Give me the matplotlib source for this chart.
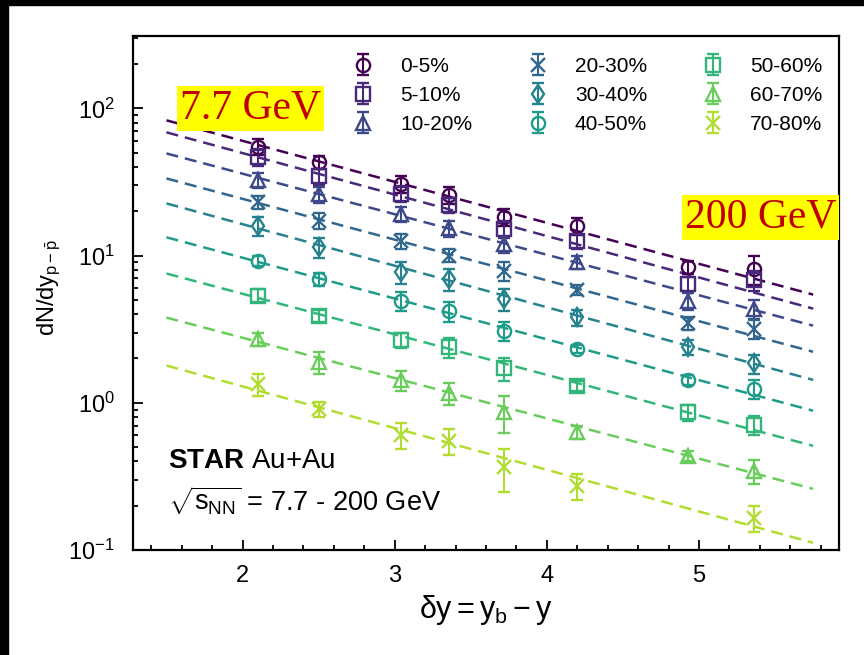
import numpy as np
import matplotlib
matplotlib.use('Agg')
import matplotlib.pyplot as plt
from matplotlib.patches import Rectangle
from matplotlib.ticker import MultipleLocator, LogLocator, NullFormatter

plt.rcParams['font.family'] = ['Liberation Sans', 'DejaVu Sans']
plt.rcParams['mathtext.fontset'] = 'custom'
plt.rcParams['mathtext.rm'] = 'Liberation Sans'
plt.rcParams['mathtext.it'] = 'Liberation Sans'
plt.rcParams['mathtext.bf'] = 'Liberation Sans:bold'

# beam rapidity for 7.7 ... 200 GeV
dy = [2.10, 2.50, 3.04, 3.36, 3.72, 4.20, 4.93, 5.36]

labels = ['0-5%', '5-10%', '10-20%', '20-30%', '30-40%',
          '40-50%', '50-60%', '60-70%', '70-80%']
markers = ['o', 's', '^', 'x', 'd', 'o', 's', '^', 'x']

y_0_5 = [55, 43, 30.5, 25.8, 18.3, 15.8, 8.3, 8.1]
y_5_10 = [47, 34.5, 26.3, 22.0, 15.1, 12.6, 6.4, 6.8]
y_10_20 = [32.5, 26.0, 19.2, 15.3, 11.9, 9.0, 4.9, 4.35]
y_20_30 = [23.0, 17.3, 12.6, 10.0, 7.9, 5.85, 3.47, 3.17]
y_30_40 = [16.0, 11.4, 7.7, 6.9, 5.07, 3.8, 2.4, 1.85]
y_40_50 = [9.25, 6.94, 4.94, 4.18, 3.09, 2.32, 1.43, 1.24]
y_50_60 = [5.35, 3.9, 2.68, 2.38, 1.72, 1.31, 0.86, 0.71]
y_60_70 = [2.71, 1.9, 1.42, 1.17, 0.87, 0.63, 0.437, 0.344]
y_70_80 = [1.34, 0.905, 0.605, 0.55, 0.367, 0.272, np.nan, 0.165]

# relative errors
e_0_5 = [0.12, 0.10, 0.13, 0.13, 0.13, 0.13, 0.10, 0.22]
e_5_10 = [0.13, 0.12, 0.12, 0.12, 0.13, 0.12, 0.12, 0.15]
e_10_20 = [0.12, 0.12, 0.12, 0.12, 0.12, 0.10, 0.13, 0.15]
e_20_30 = [0.10, 0.12, 0.12, 0.10, 0.15, 0.08, 0.10, 0.15]
e_30_40 = [0.15, 0.15, 0.17, 0.17, 0.17, 0.12, 0.12, 0.15]
e_40_50 = [0.08, 0.10, 0.15, 0.15, 0.15, 0.06, 0.08, 0.15]
e_50_60 = [0.10, 0.10, 0.12, 0.15, 0.18, 0.08, 0.12, 0.15]
e_60_70 = [0.10, 0.17, 0.15, 0.17, 0.28, 0.10, 0.08, 0.18]
e_70_80 = [0.17, 0.12, 0.20, 0.20, 0.33, 0.20, np.nan, 0.20]

yields = [y_0_5, y_5_10, y_10_20, y_20_30, y_30_40, y_40_50, y_50_60, y_60_70, y_70_80]
errors = [e_0_5, e_5_10, e_10_20, e_20_30, e_30_40, e_40_50, e_50_60, e_60_70, e_70_80]

# exponential fits: value at both ends of the dashed line
fit_x = [1.50, 5.75]
fit_lo = [82.9, 68.7, 49.4, 33.4, 22.6, 13.3, 7.55, 3.79, 1.79]
fit_hi = [5.43, 4.36, 3.34, 2.22, 1.43, 0.883, 0.51, 0.26, 0.112]

colors = plt.cm.viridis(np.linspace(0, 0.88, 9))

fig = plt.figure(figsize=(8.64, 6.55), dpi=100)
ax = fig.add_axes([133/864, 1-550/655, 706/864, 514/655])

handles = []
for i in range(9):
    c = colors[i]
    # dashed fit in log space
    ax.plot(fit_x, [fit_lo[i], fit_hi[i]], color=c, lw=1.8, dashes=(4.8, 2.8), zorder=1)
    y = np.array(yields[i])
    err = np.array(errors[i]) * y
    h = ax.errorbar(dy, y, yerr=err, fmt=markers[i], color=c, mfc='none', mec=c,
                    ms=9.5 if markers[i] != 'x' else 10.5, mew=1.7, elinewidth=1.5,
                    capsize=4, capthick=1.5, zorder=3)
    handles.append(h)

ax.set_yscale('log')
ax.set_xlim(1.28, 5.92)
ax.set_ylim(0.1, 310)

ax.xaxis.set_minor_locator(MultipleLocator(0.2))
ax.yaxis.set_major_locator(LogLocator(base=10, numticks=10))
ax.yaxis.set_minor_locator(LogLocator(base=10, subs=np.arange(2, 10), numticks=10))
ax.yaxis.set_minor_formatter(NullFormatter())
ax.tick_params(which='both', direction='in', top=False, right=False, labelsize=17, width=1.3)
ax.tick_params(which='major', length=7)
ax.tick_params(which='minor', length=3.5)
ax.tick_params(axis='x', pad=11)
ax.tick_params(axis='y', pad=13)
for s in ax.spines.values():
    s.set_linewidth(1.6)

ax.set_xlabel(r'$\delta y = y_{\rm b} - y$', fontsize=22, labelpad=4)
ax.set_ylabel(r'dN/dy$_{\rm p-\bar{p}}$', fontsize=17)
ax.yaxis.set_label_coords(-0.099, 0.51)

ax.legend(handles, labels, ncol=3, loc='upper left', bbox_to_anchor=(0.311, 0.959),
          frameon=False, fontsize=15, borderpad=0, borderaxespad=0,
          handlelength=1.0, handletextpad=1.28, columnspacing=2.65, labelspacing=0.48)

box = dict(facecolor='#ffff00', edgecolor='none', pad=2)
ax.text(2.05, 100, '7.7 GeV', family='Liberation Serif', fontsize=30, color='#c00000',
        ha='center', va='center', bbox=box)
ax.text(5.405, 18.1, '200 GeV', family='Liberation Serif', fontsize=30, color='#c00000',
        ha='center', va='center', bbox=box)

ax.text(0.05, 0.16, r'$\bf{STAR}$ Au+Au', transform=ax.transAxes, fontsize=20)
ax.text(0.05, 0.076, r'$\sqrt{s_{\rm NN}}$ = 7.7 - 200 GeV', transform=ax.transAxes, fontsize=19.5)

# black screenshot edges on the left and top
fig.add_artist(Rectangle((0, 0), 8/864, 1, transform=fig.transFigure, color='black'))
fig.add_artist(Rectangle((0, 1-5/655), 1, 5/655, transform=fig.transFigure, color='black'))

fig.savefig('out.png', dpi=100)
